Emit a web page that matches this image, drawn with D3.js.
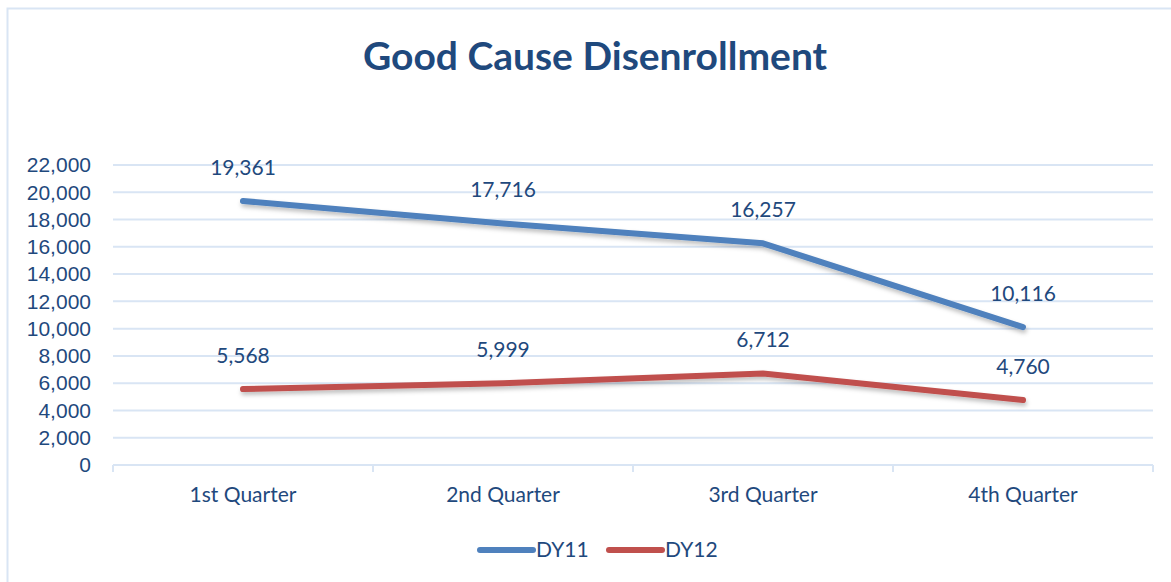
<!DOCTYPE html>
<html>
<head>
<meta charset="utf-8">
<script src="https://cdn.jsdelivr.net/npm/d3@7"></script>
<style>
  body { margin: 0; background: #fff; }
  svg { display: block; font-family: Lato, "Open Sans", sans-serif; }
</style>
</head>
<body>
<svg id="chart"></svg>
<script>
const quarters = ["1st Quarter", "2nd Quarter", "3rd Quarter", "4th Quarter"];
const dy11 = [19361, 17716, 16257, 10116];
const dy12 = [5568, 5999, 6712, 4760];
const yTicks = [0, 2000, 4000, 6000, 8000, 10000, 12000, 14000, 16000, 18000, 20000, 22000];

const seriesNames = ["DY11", "DY12"];
const seriesColors = ["#4F81BD", "#C0504D"];

const width = 1171;
const height = 582;
const margin = { top: 165, right: 18, bottom: 117, left: 113 };
const textColor = "#1F497D";
const gridColor = "#D9E5F4";

const svg = d3.select("#chart").attr("width", width).attr("height", height);

// frame (only left and top edges show)
svg.append("path")
  .attr("d", `M7.5,${height} V8.5 H${width}`)
  .attr("fill", "none")
  .attr("stroke", gridColor)
  .attr("stroke-width", 2);

// drop shadow like Excel's
const defs = svg.append("defs");
const shadow = defs.append("filter").attr("id", "shadow")
  .attr("x", "-5%").attr("y", "-50%").attr("width", "110%").attr("height", "200%");
shadow.append("feDropShadow")
  .attr("dx", 1).attr("dy", 3).attr("stdDeviation", 2)
  .attr("flood-color", "#000").attr("flood-opacity", 0.25);

const innerW = width - margin.left - margin.right;
const innerH = height - margin.top - margin.bottom;

const chart = svg.append("g")
  .attr("transform", `translate(${margin.left},${margin.top})`);

const x = d3.scaleBand().domain(quarters).range([0, innerW]);
const y = d3.scaleLinear().domain([0, 22000]).range([innerH, 0]);

// title
svg.append("text")
  .attr("x", 595)
  .attr("y", 70)
  .attr("text-anchor", "middle")
  .attr("fill", textColor)
  .style("font-size", "39px")
  .style("font-weight", "bold")
  .text("Good Cause Disenrollment");

// gridlines
chart.append("g")
  .selectAll("line")
  .data(yTicks.filter(d => d > 0))
  .join("line")
  .attr("x1", 0)
  .attr("x2", innerW)
  .attr("y1", d => y(d))
  .attr("y2", d => y(d))
  .attr("stroke", gridColor)
  .attr("stroke-width", 2);

// y axis
const yAxis = d3.axisLeft(y)
  .tickValues(yTicks)
  .tickSize(0)
  .tickPadding(22)
  .tickFormat(d3.format(","));
const yAxisG = chart.append("g").call(yAxis);
yAxisG.select(".domain").remove();
yAxisG.selectAll("text")
  .attr("fill", textColor)
  .style("font-size", "21px");

// x axis
const xAxisG = chart.append("g").attr("transform", `translate(0,${innerH})`);
xAxisG.append("line")
  .attr("x1", 0).attr("x2", innerW)
  .attr("y1", 0).attr("y2", 0)
  .attr("stroke", gridColor).attr("stroke-width", 2);
xAxisG.selectAll(".tick-mark")
  .data(d3.range(quarters.length + 1))
  .join("line")
  .attr("class", "tick-mark")
  .attr("x1", i => i * x.bandwidth())
  .attr("x2", i => i * x.bandwidth())
  .attr("y1", 0).attr("y2", 7)
  .attr("stroke", gridColor).attr("stroke-width", 2);
xAxisG.selectAll(".cat")
  .data(quarters)
  .join("text")
  .attr("class", "cat")
  .attr("x", d => x(d) + x.bandwidth() / 2)
  .attr("y", 37)
  .attr("text-anchor", "middle")
  .attr("fill", textColor)
  .style("font-size", "21px")
  .text(d => d);

// lines
const line = d3.line()
  .x((d, i) => x(quarters[i]) + x.bandwidth() / 2)
  .y(d => y(d));

[dy11, dy12].forEach((values, s) => {
  chart.append("path")
    .datum(values)
    .attr("fill", "none")
    .attr("stroke", seriesColors[s])
    .attr("stroke-width", 6)
    .attr("stroke-linecap", "round")
    .attr("stroke-linejoin", "round")
    .attr("filter", "url(#shadow)")
    .attr("d", line);

  chart.append("g")
    .selectAll("text")
    .data(values)
    .join("text")
    .attr("x", (d, i) => x(quarters[i]) + x.bandwidth() / 2)
    .attr("y", d => y(d) - 26)
    .attr("text-anchor", "middle")
    .attr("fill", textColor)
    .style("font-size", "21px")
    .text(d => d3.format(",")(d));
});

// legend
const legend = svg.append("g").attr("transform", "translate(0,550)");
const legendX = [480, 609];
seriesNames.forEach((name, s) => {
  legend.append("line")
    .attr("x1", legendX[s]).attr("x2", legendX[s] + 53)
    .attr("y1", 0).attr("y2", 0)
    .attr("stroke", seriesColors[s])
    .attr("stroke-width", 6)
    .attr("stroke-linecap", "round");
  legend.append("text")
    .attr("x", legendX[s] + 56)
    .attr("y", 7)
    .attr("fill", textColor)
    .style("font-size", "21px")
    .text(name);
});
</script>
</body>
</html>
